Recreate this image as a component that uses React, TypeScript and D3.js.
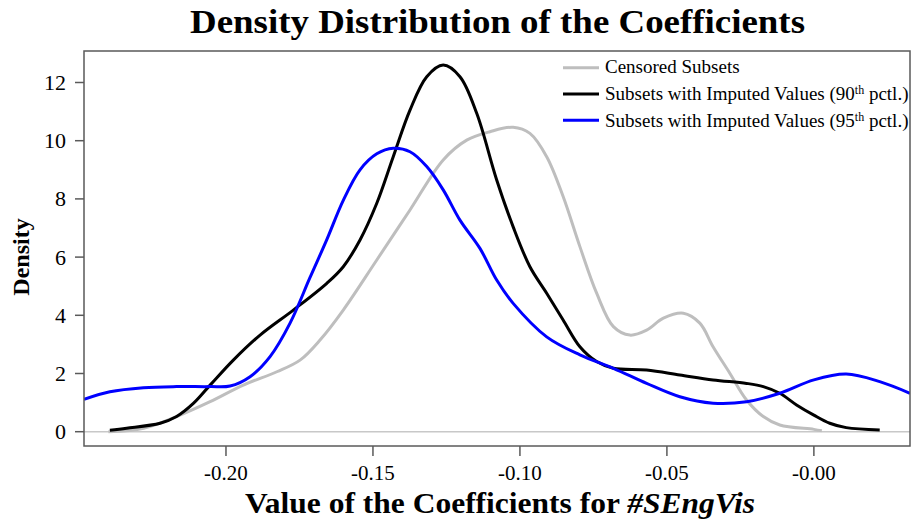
import React from "react";
import * as d3 from "d3";

const xTicks = [-0.2, -0.15, -0.1, -0.05, 0.0];
const xTickLabels = ["-0.20", "-0.15", "-0.10", "-0.05", "-0.00"];
const yTicks = [0, 2, 4, 6, 8, 10, 12];

const censoredX = [-0.240, -0.228, -0.2168, -0.2054, -0.1941, -0.1827, -0.1748, -0.168, -0.1601, -0.1487, -0.1374, -0.1261, -0.1181, -0.1102, -0.1023, -0.0966, -0.0909, -0.0853, -0.0796, -0.0739, -0.0682, -0.0626, -0.0569, -0.0512, -0.0444, -0.0388, -0.0343, -0.0286, -0.0229, -0.0172, -0.0116, 0.0, 0.0027];
const censoredY = [0.0, 0.12, 0.52, 1.03, 1.6, 2.06, 2.46, 3.15, 4.18, 5.9, 7.62, 9.34, 10.02, 10.31, 10.46, 10.25, 9.45, 8.08, 6.36, 4.76, 3.61, 3.32, 3.49, 3.9, 4.07, 3.73, 2.92, 2.01, 1.09, 0.52, 0.23, 0.08, 0.03];

const p90X = [-0.2395, -0.2338, -0.2224, -0.2168, -0.2111, -0.2054, -0.1975, -0.1884, -0.1771, -0.1657, -0.1601, -0.1544, -0.1487, -0.1431, -0.1374, -0.1317, -0.1261, -0.1204, -0.1147, -0.1079, -0.1023, -0.0966, -0.0909, -0.0853, -0.0796, -0.0739, -0.0682, -0.0569, -0.0456, -0.0343, -0.0229, -0.0172, -0.0116, -0.0059, 0.0, 0.0054, 0.011, 0.0224];
const p90Y = [0.05, 0.12, 0.29, 0.52, 0.97, 1.6, 2.46, 3.32, 4.18, 5.1, 5.67, 6.59, 7.85, 9.45, 11.05, 12.2, 12.6, 12.2, 10.94, 8.65, 7.04, 5.67, 4.76, 3.84, 2.92, 2.41, 2.18, 2.12, 1.95, 1.78, 1.66, 1.55, 1.32, 0.92, 0.57, 0.29, 0.14, 0.06];

const p95X = [-0.2483, -0.2395, -0.2281, -0.2168, -0.2054, -0.1986, -0.1918, -0.185, -0.1782, -0.1714, -0.1657, -0.1601, -0.1544, -0.1487, -0.1431, -0.1374, -0.1317, -0.1261, -0.1204, -0.1136, -0.1079, -0.1023, -0.0909, -0.0796, -0.0682, -0.0569, -0.0456, -0.0343, -0.0229, -0.0116, 0.0, 0.011, 0.0224, 0.0327];
const p95Y = [1.11, 1.37, 1.51, 1.55, 1.55, 1.57, 1.89, 2.58, 3.73, 5.3, 6.6, 7.95, 9.0, 9.55, 9.74, 9.62, 9.11, 8.31, 7.27, 6.3, 5.21, 4.41, 3.26, 2.64, 2.18, 1.66, 1.2, 0.98, 1.03, 1.32, 1.78, 1.98, 1.72, 1.32];

const seriesNames = ["Censored Subsets", "Subsets with Imputed Values (90", "Subsets with Imputed Values (95"];
const seriesColors = ["#bebebe", "#000000", "#0000ff"];

const W = 913, H = 526;
const L = 84, R = 910, T = 51, B = 446;
const serif = "'Liberation Serif', 'Times New Roman', serif";

export default function App() {
  const x = d3.scaleLinear().domain([-0.2483, 0.0327]).range([L, R]);
  const y = d3.scaleLinear().domain([0, 12]).range([431.7, 82.5]);
  const line = d3.line<[number, number]>().x(d => x(d[0])).y(d => y(d[1])).curve(d3.curveCatmullRom.alpha(0.5));
  const series = [
    { xs: censoredX, ys: censoredY },
    { xs: p90X, ys: p90Y },
    { xs: p95X, ys: p95Y },
  ];
  return (
    <svg width={W} height={H} style={{ position: "absolute", left: 0, top: 0, background: "#fff" }}>
      <defs>
        <clipPath id="plotclip">
          <rect x={L} y={T} width={R - L} height={B - T} />
        </clipPath>
      </defs>
      <text x={497.5} y={33} textAnchor="middle" fontFamily={serif} fontWeight="bold" fontSize={33} textLength={615} lengthAdjust="spacingAndGlyphs">
        Density Distribution of the Coefficients
      </text>
      <line x1={L} x2={R} y1={y(0)} y2={y(0)} stroke="#c8c8c8" strokeWidth={1.5} />
      <g clipPath="url(#plotclip)">
        {series.map((s, i) => (
          <path key={i} d={line(s.xs.map((v, j) => [v, s.ys[j]] as [number, number])) || ""} fill="none" stroke={seriesColors[i]} strokeWidth={3} strokeLinejoin="round" />
        ))}
      </g>
      <rect x={L} y={T} width={R - L} height={B - T} fill="none" stroke="#5a5a5a" strokeWidth={1.5} />
      {yTicks.map(t => (
        <g key={t}>
          <line x1={L - 9} x2={L} y1={y(t)} y2={y(t)} stroke="#5a5a5a" strokeWidth={1.5} />
          <text x={L - 18} y={y(t) + 7.5} textAnchor="end" fontFamily={serif} fontSize={22}>{t}</text>
        </g>
      ))}
      {xTicks.map((t, i) => (
        <g key={t}>
          <line x1={x(t)} x2={x(t)} y1={B} y2={B + 10} stroke="#5a5a5a" strokeWidth={1.5} />
          <text x={x(t)} y={480} textAnchor="middle" fontFamily={serif} fontSize={21}>{xTickLabels[i]}</text>
        </g>
      ))}
      <text x={500} y={513} textAnchor="middle" fontFamily={serif} fontWeight="bold" fontSize={29} textLength={510} lengthAdjust="spacingAndGlyphs">
        Value of the Coefficients for <tspan fontStyle="italic">#SEngVis</tspan>
      </text>
      <text transform={`translate(29,257) rotate(-90)`} textAnchor="middle" fontFamily={serif} fontWeight="bold" fontSize={24}>
        Density
      </text>
      {seriesNames.map((n, i) => (
        <g key={n}>
          <line x1={563} x2={599} y1={67.7 + i * 26.3} y2={67.7 + i * 26.3} stroke={seriesColors[i]} strokeWidth={3} />
          <text x={605} y={73.3 + i * 27} fontFamily={serif} fontSize={19}>
            {n}
            {i > 0 && <tspan fontSize={12} dy={-6}>th</tspan>}
            {i > 0 && <tspan dy={6}> pctl.)</tspan>}
          </text>
        </g>
      ))}
    </svg>
  );
}
